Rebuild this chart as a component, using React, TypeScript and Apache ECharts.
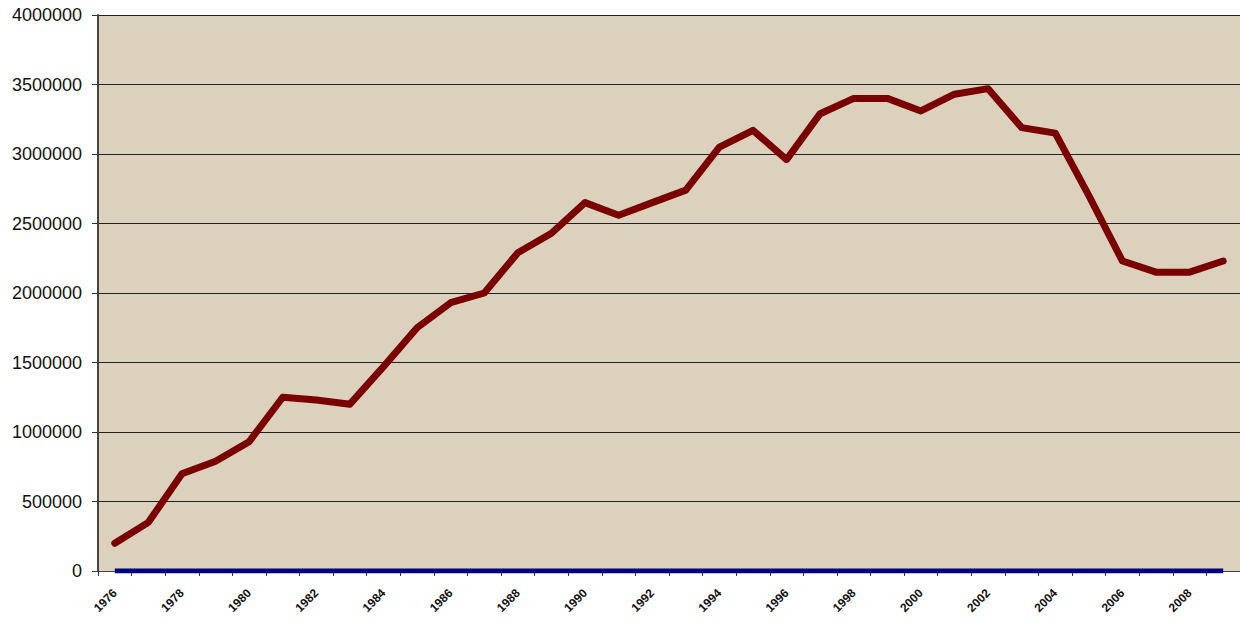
import React, { useEffect, useRef } from "react";
import * as echarts from "echarts";

const years: string[] = [
  "1976","1977","1978","1979","1980","1981","1982","1983","1984","1985",
  "1986","1987","1988","1989","1990","1991","1992","1993","1994","1995",
  "1996","1997","1998","1999","2000","2001","2002","2003","2004","2005",
  "2006","2007","2008","2009",
];

const mainValues: number[] = [
  200000, 350000, 700000, 790000, 930000, 1250000, 1230000, 1200000, 1470000, 1750000,
  1930000, 2000000, 2290000, 2430000, 2650000, 2560000, 2650000, 2740000, 3050000, 3170000,
  2960000, 3290000, 3400000, 3400000, 3310000, 3430000, 3470000, 3190000, 3150000, 2700000,
  2230000, 2150000, 2150000, 2230000,
];

const baseValues: number[] = [
  0, 0, 0, 0, 0, 0, 0, 0, 0, 0,
  0, 0, 0, 0, 0, 0, 0, 0, 0, 0,
  0, 0, 0, 0, 0, 0, 0, 0, 0, 0,
  0, 0, 0, 0,
];

export default function App() {
  const ref = useRef<HTMLDivElement>(null);
  useEffect(() => {
    if (!ref.current) return;
    const chart = echarts.init(ref.current, undefined, { renderer: "svg" });
    chart.setOption({
      animation: false,
      backgroundColor: "#ffffff",
      grid: {
        show: true,
        left: 98,
        right: 0,
        top: 15,
        bottom: 57,
        backgroundColor: "#dbd1bc",
        borderWidth: 0,
      },
      xAxis: {
        type: "category",
        data: years,
        boundaryGap: true,
        axisLine: { show: true, lineStyle: { color: "#444444", width: 1 } },
        axisTick: { show: true, alignWithLabel: false, interval: 0, length: 5, lineStyle: { color: "#333333" } },
        axisLabel: {
          interval: 1,
          rotate: 45,
          fontSize: 12,
          fontWeight: "bold",
          color: "#111111",
          fontFamily: "Liberation Sans, Arial, sans-serif",
          margin: 20,
        },
        splitLine: { show: false },
      },
      yAxis: {
        type: "value",
        min: 0,
        max: 4000000,
        interval: 500000,
        axisLine: { show: true, lineStyle: { color: "#444444", width: 2 } },
        axisTick: { show: true, length: 6, lineStyle: { color: "#333333" } },
        axisLabel: {
          fontSize: 18,
          color: "#111111",
          fontFamily: "Liberation Sans, Arial, sans-serif",
          margin: 16,
          formatter: (v: number) => String(v),
        },
        splitLine: { show: true, lineStyle: { color: "#222222", width: 1 } },
      },
      series: [
        {
          type: "line",
          data: baseValues,
          symbol: "none",
          lineStyle: { color: "#000080", width: 5 },
          z: 3,
        },
        {
          type: "line",
          data: mainValues,
          symbol: "none",
          lineStyle: { color: "#7a0000", width: 7, join: "round", cap: "round" },
          z: 4,
        },
      ],
    });
    return () => chart.dispose();
  }, []);
  return <div ref={ref} style={{ width: 1240, height: 628, position: "absolute", left: 0, top: 0 }} />;
}
